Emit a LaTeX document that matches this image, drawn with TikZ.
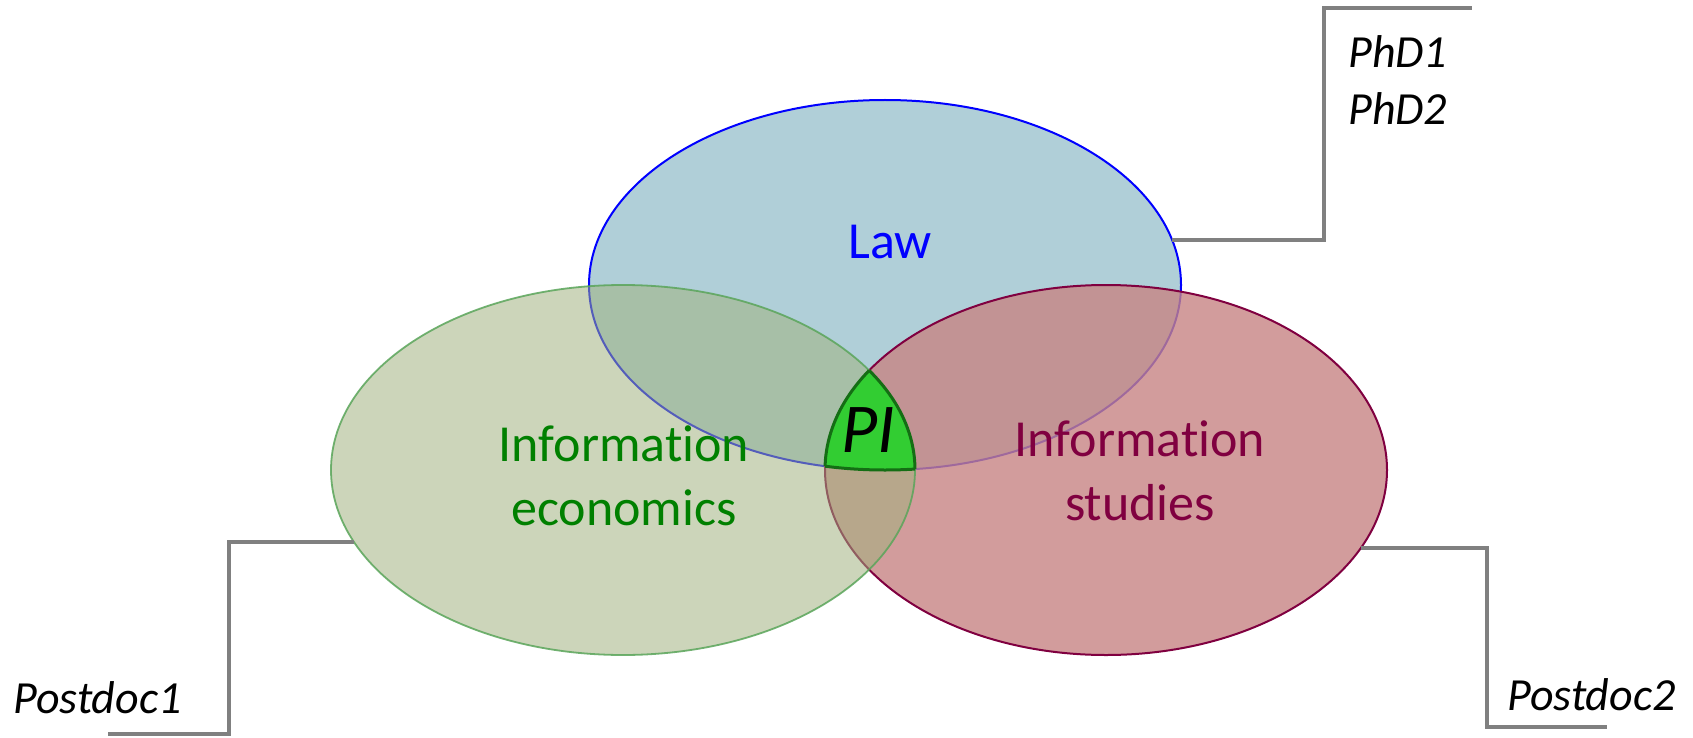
\documentclass[tikz,border=0pt]{standalone}
\usepackage{fontspec}
\setmainfont{Carlito}[Ligatures=NoCommon]
\usetikzlibrary{shapes.geometric}
\definecolor{lawfill}{RGB}{176,207,216}
\definecolor{lawline}{RGB}{0,0,255}
\definecolor{econfill}{RGB}{160,177,125}
\definecolor{econline}{RGB}{90,165,90}
\definecolor{econtext}{RGB}{0,128,0}
\definecolor{studfill}{RGB}{199,132,132}
\definecolor{studline}{RGB}{128,0,64}
\definecolor{pifill}{RGB}{50,205,50}
\definecolor{piline}{RGB}{20,110,20}
\definecolor{callgray}{RGB}{128,128,128}
\newcommand\lawpath{(885,285) ellipse [x radius=296, y radius=185]}
\newcommand\econpath{(623,470) ellipse [x radius=292, y radius=185]}
\newcommand\studpath{(1106,470) ellipse [x radius=281, y radius=185]}
\begin{document}
\begin{tikzpicture}[x=1pt,y=-1pt,
  field/.style={ellipse, inner sep=0pt, outer sep=0pt},
  callout/.style={draw=callgray, line width=4pt},
  fieldlabel/.style={font=\fontsize{52}{64}\selectfont, align=center, inner sep=0pt},
  personlabel/.style={font=\itshape\fontsize{46}{57}\selectfont, align=left, inner sep=0pt},
  piedge/.style={draw=piline, line width=3pt}]
\useasboundingbox (0,0) rectangle (1693,738);
\fill[white] (0,0) rectangle (1693,738);
% ellipses
\node[field, minimum width=592pt, minimum height=370pt, fill=lawfill, draw=lawline, line width=2pt] (law) at (885,285) {};
\node[field, minimum width=562pt, minimum height=370pt, fill=studfill, fill opacity=0.8, draw=studline, line width=2pt] (studies) at (1106,470) {};
\node[field, minimum width=584pt, minimum height=370pt, fill=econfill, fill opacity=0.53, draw=econline, draw opacity=0.85, line width=1.8pt] (econ) at (623,470) {};
% PI region (intersection of the three)
\begin{scope}
  \clip \econpath;
  \clip \studpath;
  \fill[pifill] \lawpath;
  \draw[piedge] \lawpath;
\end{scope}
\begin{scope}
  \clip \lawpath;
  \clip \studpath;
  \draw[piedge] \econpath;
\end{scope}
\begin{scope}
  \clip \lawpath;
  \clip \econpath;
  \draw[piedge] \studpath;
\end{scope}
% labels
\node[fieldlabel, text=lawline, anchor=base] (lawlabel) at (890,258) {Law};
\node[fieldlabel, text=econtext] (econlabel) at (624,476) {Information\\economics};
\node[fieldlabel, text=studline] (studlabel) at (1140,471) {Information\\studies};
\node[font=\itshape\fontsize{70}{84}\selectfont, inner sep=0pt, anchor=base] (pi) at (868,452) {PI};
% people
\node[personlabel, anchor=base west] (phd) at (1348,125) {PhD1\\PhD2};
\node[personlabel, anchor=base west] (pd1) at (13,713) {Postdoc1};
\node[personlabel, anchor=base west] (pd2) at (1507,710) {Postdoc2};
% callouts
\coordinate (phdbend) at (1324,8);
\coordinate (phdend) at (1472,8);
\coordinate (pdonebend) at (229,734);
\coordinate (pdoneend) at (108,734);
\coordinate (pdtwobend) at (1487,727);
\coordinate (pdtwoend) at (1607,727);
\draw[callout] (law.9.32) -| (phdbend) -- (phdend);
\draw[callout] (econ.195.22) -| (pdonebend) -- (pdoneend);
\draw[callout] (studies.-17.02) -| (pdtwobend) -- (pdtwoend);
\end{tikzpicture}
\end{document}
